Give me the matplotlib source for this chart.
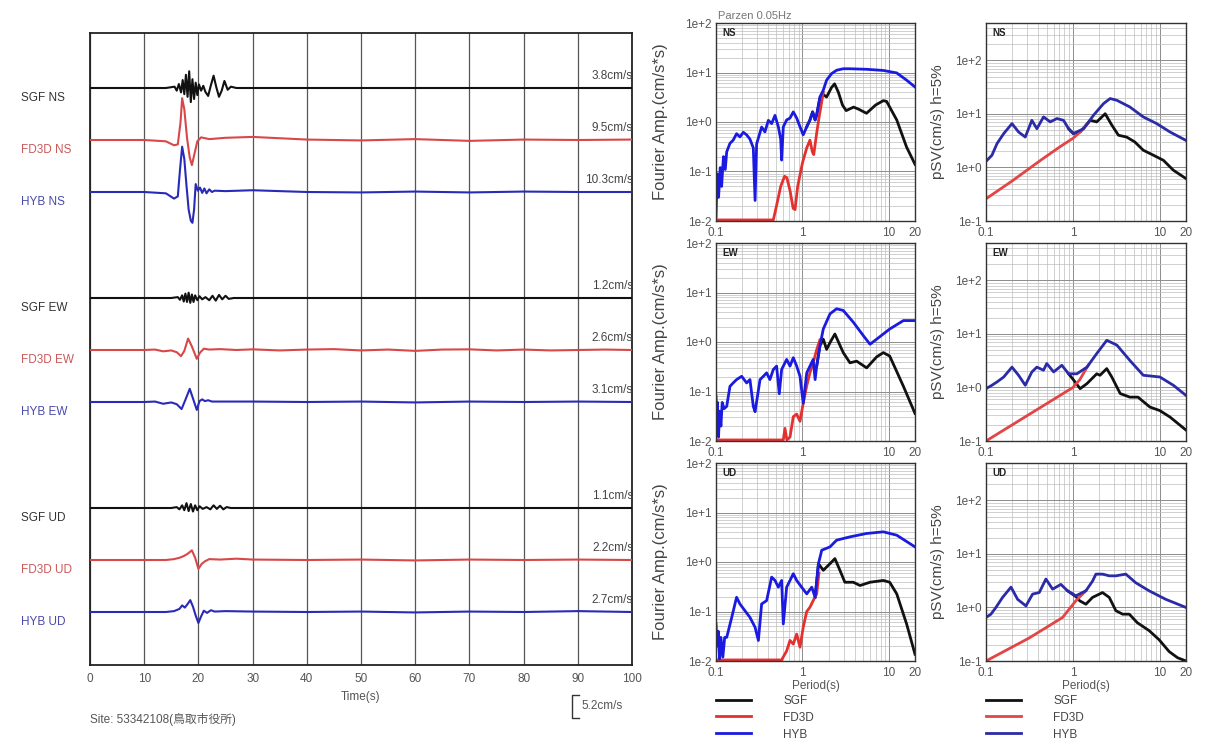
import matplotlib
matplotlib.use("Agg")
import matplotlib.pyplot as plt
from matplotlib import font_manager
from matplotlib.ticker import FixedLocator, NullFormatter

# -- fonts --
names = {f.name for f in font_manager.fontManager.ttflist}
base_font = 'Liberation Sans Narrow' if 'Liberation Sans Narrow' in names else 'Liberation Sans'
plt.rcParams['font.family'] = [base_font, 'DejaVu Sans', 'Noto Sans CJK JP']

# -- waveforms (time s, velocity cm/s) --
sgf_ns = [(0, 0), (14, 0), (15.6, 0.3), (16.0, -0.6), (16.4, 0.9), (16.8, -1.0), (17.1, 1.8), (17.4, -1.4),
          (17.7, 3.0), (18.0, -2.0), (18.3, 3.8), (18.6, -3.2), (18.9, 2.0), (19.2, -2.5), (19.5, 1.2),
          (19.8, -1.6), (20.1, 0.8), (20.5, -0.6), (20.9, 0.5), (21.3, -0.9), (21.8, -1.8), (22.3, 0.6),
          (22.8, 2.8), (23.3, 0.2), (23.8, -2.0), (24.3, -0.6), (24.8, 1.6), (25.4, -0.4), (26.0, 0.3),
          (27, 0), (100, 0)]
fd3d_ns = [(0, 0), (10, 0), (14, -0.3), (15.5, -1.2), (16.2, -1.0), (16.7, 4.0), (17.0, 9.5), (17.4, 7.0),
           (17.9, 0.5), (18.4, -4.0), (18.8, -5.7), (19.3, -3.0), (19.8, -0.3), (20.5, 0.6), (22, 0.2),
           (25, 0.5), (30, 0.7), (40, 0.1), (50, -0.1), (60, 0.2), (70, -0.2), (80, 0.1), (90, 0), (100, 0.1)]
hyb_ns = [(0, 0), (10, 0), (14, -0.3), (15.5, -1.5), (16.2, -1.0), (16.6, 5.0), (17.0, 10.3), (17.4, 7.5),
          (17.8, 1.5), (18.2, -4.0), (18.6, -6.5), (18.9, -7.0), (19.2, -4.0), (19.5, 1.8), (19.9, 0.3),
          (20.3, 1.0), (20.7, -0.2), (21.1, 0.8), (21.5, -0.3), (22, 0.6), (22.5, 0), (23, 0.3), (25, 0.2),
          (30, 0.4), (40, 0), (50, -0.1), (60, 0.1), (70, -0.1), (80, 0.1), (90, 0), (100, 0)]
sgf_ew = [(0, 0), (15, 0), (16.2, 0.2), (16.6, -0.4), (17.0, 0.6), (17.3, -0.8), (17.6, 1.0), (17.9, -0.9),
          (18.2, 1.2), (18.5, -1.1), (18.8, 0.8), (19.1, -0.9), (19.4, 0.6), (19.8, -0.5), (20.2, 0.4),
          (20.7, -0.3), (21.3, 0.2), (22.0, -0.5), (22.6, 0.5), (23.2, -0.6), (23.8, 0.7), (24.4, -0.3),
          (25.0, 0.5), (25.6, -0.2), (26.5, 0), (100, 0)]
fd3d_ew = [(0, 0), (10, 0), (12, 0.1), (13.5, -0.3), (15, -0.1), (16, -0.5), (16.8, -1.4), (17.4, -0.2),
           (18.1, 2.6), (18.8, 0.8), (19.7, -2.0), (20.3, -0.6), (21, 0.3), (22, 0.1), (24, 0.2), (27, 0),
           (30, 0.15), (35, -0.1), (40, 0.1), (45, 0.2), (50, -0.1), (55, 0.1), (60, -0.2), (65, 0.1),
           (70, 0.15), (75, -0.1), (80, 0.1), (85, -0.1), (90, 0), (95, 0.1), (100, 0)]
hyb_ew = [(0, 0), (10, 0), (12, 0.1), (13.5, -0.4), (15, -0.1), (16, -0.5), (16.9, -1.6), (17.6, 0.5),
          (18.4, 3.0), (19.0, 0.8), (19.7, -1.8), (20.2, 0.2), (20.7, 0.6), (21.2, 0.2), (21.8, 0.4),
          (22.5, 0.1), (24, 0.1), (30, 0.1), (40, 0), (50, 0.1), (60, -0.1), (70, 0.1), (80, 0), (90, 0.1),
          (100, 0)]
sgf_ud = [(0, 0), (15, 0), (16.0, 0.2), (16.5, -0.3), (17.0, 0.6), (17.4, -0.5), (17.8, 1.1), (18.2, -0.7),
          (18.6, 0.9), (19.0, -0.8), (19.4, 0.6), (19.8, -0.5), (20.2, 0.4), (20.8, -0.2), (21.5, 0.2),
          (22.2, -0.3), (22.8, 0.6), (23.4, -0.2), (24.0, 0.5), (24.6, -0.3), (25.2, 0.2), (26, 0), (100, 0)]
fd3d_ud = [(0, 0), (10, 0), (14, 0), (15.5, 0.2), (16.5, 0.5), (17.3, 0.9), (18.0, 1.4), (18.8, 2.2),
           (19.4, 0.5), (20.0, -2.0), (20.6, -0.9), (21.2, -0.3), (22, 0.2), (24, 0.1), (27, 0.3), (30, 0.1),
           (40, 0), (50, 0.1), (60, -0.1), (70, 0.1), (80, 0), (90, 0.1), (100, 0)]
hyb_ud = [(0, 0), (10, 0), (14, 0), (15.5, 0.2), (16.5, 0.7), (17.0, 1.5), (17.5, 1.0), (18.0, 1.8),
          (18.5, 2.7), (19.0, 1.2), (19.5, -0.8), (20.0, -2.5), (20.5, -1.0), (21.0, 0.3), (21.6, -0.2),
          (22.3, 0.4), (23, 0.1), (25, 0.2), (30, 0.1), (40, 0), (50, 0.1), (60, -0.1), (70, 0.1), (80, 0),
          (90, 0.2), (100, 0)]

wave_names = ['SGF NS', 'FD3D NS', 'HYB NS', 'SGF EW', 'FD3D EW', 'HYB EW', 'SGF UD', 'FD3D UD', 'HYB UD']
wave_data = [sgf_ns, fd3d_ns, hyb_ns, sgf_ew, fd3d_ew, hyb_ew, sgf_ud, fd3d_ud, hyb_ud]
wave_peaks = ['3.8cm/s', '9.5cm/s', '10.3cm/s', '1.2cm/s', '2.6cm/s', '3.1cm/s', '1.1cm/s', '2.2cm/s', '2.7cm/s']

# -- Fourier spectra (period s, amplitude cm/s*s) --
four_ns_sgf = [(1.12, 0.8), (1.22, 1.1), (1.31, 1.6), (1.40, 1.1), (1.46, 1.4), (1.59, 3.0), (1.74, 3.6),
               (1.90, 3.2), (2.17, 5.0), (2.35, 5.9), (2.6, 4.0), (2.9, 2.2), (3.2, 1.7), (3.9, 2.0),
               (4.5, 1.8), (5.5, 1.5), (7.0, 2.2), (8.6, 2.7), (9.4, 2.6), (12.3, 1.1), (16.0, 0.31), (20.0, 0.14)]
four_ns_fd3d = [(0.1, 0.0105), (0.46, 0.0105), (0.50, 0.02), (0.56, 0.05), (0.62, 0.08), (0.66, 0.075),
                (0.72, 0.04), (0.78, 0.018), (0.82, 0.017), (0.88, 0.05), (1.0, 0.15), (1.12, 0.3),
                (1.22, 0.43), (1.3, 0.25), (1.35, 0.22), (1.46, 0.6), (1.55, 1.2), (1.74, 4.0)]
four_ns_hyb = [(0.100, 0.012), (0.103, 0.09), (0.107, 0.03), (0.112, 0.12), (0.116, 0.05), (0.122, 0.2),
               (0.128, 0.11), (0.133, 0.25), (0.145, 0.37), (0.158, 0.43), (0.173, 0.58), (0.189, 0.50),
               (0.207, 0.62), (0.226, 0.55), (0.247, 0.45), (0.270, 0.30), (0.283, 0.026), (0.295, 0.36),
               (0.337, 0.79), (0.368, 0.63), (0.403, 1.08), (0.440, 0.93), (0.481, 1.36), (0.526, 0.80),
               (0.560, 0.45), (0.574, 0.17), (0.600, 0.80), (0.656, 1.1), (0.717, 1.2), (0.783, 1.6),
               (0.857, 1.2), (0.936, 0.8), (1.02, 0.55), (1.12, 0.8), (1.22, 1.1), (1.31, 1.6), (1.40, 1.1),
               (1.46, 1.4), (1.59, 3.2), (1.74, 4.4), (1.90, 7.0), (2.17, 9.5), (2.48, 11.1), (2.96, 11.9),
               (3.54, 11.9), (5.52, 11.6), (8.6, 11.0), (12.3, 9.8), (16.0, 7.0), (20.0, 5.1)]
four_ew_sgf = [(1.46, 0.326), (1.59, 0.835), (1.74, 1.14), (1.90, 0.71), (2.1, 1.0), (2.37, 1.45),
               (2.96, 0.61), (3.54, 0.38), (4.23, 0.41), (5.52, 0.30), (7.2, 0.5), (8.6, 0.61), (10.2, 0.52),
               (14.7, 0.127), (20.0, 0.036)]
four_ew_fd3d = [(0.1, 0.0105), (0.60, 0.0105), (0.627, 0.018), (0.66, 0.0105), (0.717, 0.012), (0.783, 0.031),
                (0.857, 0.035), (0.936, 0.025), (1.02, 0.058), (1.12, 0.13), (1.22, 0.24), (1.33, 0.38),
                (1.46, 0.7), (1.59, 1.1)]
four_ew_hyb = [(0.100, 0.079), (0.102, 0.03), (0.104, 0.06), (0.107, 0.012), (0.110, 0.04), (0.114, 0.02),
               (0.118, 0.06), (0.124, 0.045), (0.133, 0.05), (0.145, 0.127), (0.158, 0.149), (0.173, 0.174),
               (0.198, 0.203), (0.226, 0.149), (0.247, 0.174), (0.270, 0.05), (0.283, 0.039), (0.323, 0.174),
               (0.353, 0.203), (0.385, 0.238), (0.420, 0.174), (0.460, 0.278), (0.502, 0.326), (0.539, 0.09),
               (0.574, 0.278), (0.656, 0.445), (0.717, 0.326), (0.783, 0.482), (0.857, 0.326), (0.936, 0.203),
               (1.02, 0.058), (1.12, 0.238), (1.22, 0.326), (1.33, 0.445), (1.40, 0.174), (1.46, 0.326),
               (1.59, 0.835), (1.74, 1.83), (2.08, 3.7), (2.48, 4.69), (2.96, 4.34), (3.87, 2.51), (5.06, 1.34),
               (6.04, 0.9), (7.20, 1.14), (10.2, 1.83), (14.7, 2.71), (20.0, 2.71)]
four_ud_sgf = [(1.40, 0.194), (1.53, 0.925), (1.74, 0.68), (2.08, 0.925), (2.37, 1.17), (2.71, 0.68),
               (3.09, 0.39), (3.87, 0.39), (4.63, 0.335), (6.04, 0.39), (8.6, 0.424), (10.2, 0.39),
               (12.3, 0.227), (16.0, 0.056), (20.0, 0.0137)]
four_ud_fd3d = [(0.1, 0.0105), (0.574, 0.0105), (0.656, 0.016), (0.717, 0.026), (0.783, 0.022), (0.857, 0.035),
                (0.936, 0.019), (1.02, 0.048), (1.12, 0.1), (1.22, 0.122), (1.33, 0.166), (1.46, 0.227),
                (1.55, 0.6)]
four_ud_hyb = [(0.100, 0.056), (0.103, 0.02), (0.106, 0.04), (0.110, 0.011), (0.114, 0.03), (0.120, 0.012),
               (0.126, 0.03), (0.133, 0.030), (0.152, 0.076), (0.173, 0.194), (0.189, 0.142), (0.216, 0.104),
               (0.247, 0.076), (0.283, 0.048), (0.309, 0.026), (0.337, 0.142), (0.385, 0.166), (0.440, 0.495),
               (0.481, 0.424), (0.526, 0.31), (0.574, 0.424), (0.600, 0.056), (0.656, 0.31), (0.717, 0.424),
               (0.783, 0.58), (0.857, 0.424), (0.978, 0.31), (1.12, 0.227), (1.28, 0.31), (1.40, 0.194),
               (1.53, 0.925), (1.67, 1.73), (2.08, 2.02), (2.48, 2.76), (3.54, 3.22), (5.52, 3.77),
               (8.6, 4.07), (12.3, 3.48), (20.0, 2.02)]

# -- pseudo velocity response, h=5% (period s, cm/s) --
psv_ns_sgf = [(0.892, 5.3), (1.01, 4.3), (1.21, 4.6), (1.58, 7.6), (1.88, 7.1), (2.35, 10.1), (2.8, 6.2),
              (3.34, 4.0), (4.15, 3.7), (5.15, 3.0), (6.45, 2.1), (8.4, 1.7), (11.0, 1.36), (14.3, 0.89),
              (20.0, 0.62)]
psv_ns_fd3d = [(0.1, 0.26), (0.2, 0.56), (0.4, 1.27), (0.7, 2.4), (1.0, 3.5), (1.21, 4.6), (1.5, 6.8)]
psv_ns_hyb = [(0.100, 1.3), (0.117, 1.69), (0.134, 2.8), (0.160, 4.3), (0.199, 6.6), (0.237, 4.6),
              (0.283, 3.7), (0.337, 7.6), (0.385, 5.3), (0.459, 8.8), (0.548, 7.1), (0.654, 8.2), (0.780, 7.6),
              (0.892, 5.3), (1.01, 4.3), (1.33, 5.3), (1.73, 9.5), (2.25, 15.6), (2.68, 19.4), (3.2, 18.0),
              (4.52, 13.5), (6.45, 8.8), (9.2, 6.6), (13.1, 4.6), (20.0, 3.2)]
psv_ew_sgf = [(0.892, 1.8), (1.01, 1.4), (1.21, 0.95), (1.45, 1.18), (1.88, 1.8), (2.05, 1.69), (2.45, 2.25),
              (2.8, 1.57), (3.5, 0.77), (4.52, 0.66), (5.6, 0.66), (7.7, 0.43), (10.0, 0.37), (13.1, 0.28),
              (20.0, 0.16)]
psv_ew_fd3d = [(0.1, 0.1), (0.2, 0.2), (0.4, 0.4), (0.8, 0.8), (1.0, 1.0), (1.2, 1.4), (1.5, 2.6)]
psv_ew_hyb = [(0.100, 0.95), (0.117, 1.1), (0.134, 1.27), (0.160, 1.57), (0.199, 2.4), (0.237, 1.69),
              (0.283, 1.1), (0.337, 1.95), (0.385, 2.4), (0.459, 2.1), (0.50, 2.8), (0.60, 1.95), (0.746, 2.6),
              (0.892, 1.8), (1.11, 1.8), (1.45, 2.4), (1.88, 4.3), (2.45, 7.6), (3.2, 6.2), (4.52, 3.2),
              (6.45, 1.69), (10.0, 1.57), (14.3, 1.1), (20.0, 0.71)]
psv_ud_sgf = [(0.867, 2.05), (1.08, 1.6), (1.2, 1.33), (1.41, 1.15), (1.68, 1.54), (2.19, 1.9), (2.62, 1.54),
              (3.12, 0.87), (3.73, 0.75), (4.45, 0.75), (5.5, 0.52), (7.52, 0.37), (9.8, 0.25), (12.8, 0.15),
              (16.0, 0.115), (20.0, 0.1)]
psv_ud_fd3d = [(0.1, 0.1), (0.315, 0.27), (0.76, 0.65), (1.08, 1.33), (1.41, 2.05)]
psv_ud_hyb = [(0.100, 0.65), (0.114, 0.75), (0.130, 1.0), (0.155, 1.54), (0.194, 2.4), (0.231, 1.42),
              (0.288, 1.07), (0.344, 1.78), (0.410, 1.9), (0.489, 3.4), (0.584, 2.2), (0.727, 2.7),
              (0.867, 2.05), (1.08, 1.65), (1.41, 2.05), (1.68, 3.1), (1.84, 4.2), (2.19, 4.2), (2.62, 3.9),
              (3.12, 3.9), (4.06, 4.2), (5.28, 2.9), (7.52, 2.05), (11.7, 1.42), (20.0, 1.0)]

components = ['NS', 'EW', 'UD']
fourier = [(four_ns_sgf, four_ns_fd3d, four_ns_hyb), (four_ew_sgf, four_ew_fd3d, four_ew_hyb),
           (four_ud_sgf, four_ud_fd3d, four_ud_hyb)]
psv = [(psv_ns_sgf, psv_ns_fd3d, psv_ns_hyb), (psv_ew_sgf, psv_ew_fd3d, psv_ew_hyb),
       (psv_ud_sgf, psv_ud_fd3d, psv_ud_hyb)]
series_names = ['SGF', 'FD3D', 'HYB']

# === layout ===
W, H = 1213, 744
fig = plt.figure(figsize=(W / 100, H / 100), dpi=100)


def box(left, top, width, height):
    return [left / W, 1 - (top + height) / H, width / W, height / H]


TXT = '#555555'

# === waveforms ===
axw = fig.add_axes(box(90, 33, 542, 632))
axw.set_xlim(0, 100)
axw.set_ylim(632, 0)
px_per_cms = 4.4
wave_colors = ['#111111', '#d84848', '#2a2ab8']
label_colors = ['#333333', '#c85a5a', '#4a4aa8']
for i, (name, data, peak) in enumerate(zip(wave_names, wave_data, wave_peaks)):
    base = 55 + (i // 3) * 210 + (i % 3) * 52
    t = [p[0] for p in data]
    y = [base - p[1] * px_per_cms for p in data]
    axw.plot(t, y, color=wave_colors[i % 3], lw=1.5, zorder=3)
    axw.text(-12.8, base + 10, name, ha='left', va='center', fontsize=8.5,
             color=label_colors[i % 3], clip_on=False)
    axw.text(100.2, base - 12, peak, ha='right', va='center', fontsize=8.5, color='#444444')

axw.set_xticks(range(0, 101, 10))
axw.set_yticks([])
axw.grid(axis='x', color='#555555', lw=0.9)
axw.tick_params(axis='x', length=0, pad=6, labelsize=8.5, labelcolor=TXT)
for s in axw.spines.values():
    s.set_linewidth(1.3)
    s.set_color('#222222')
axw.set_xlabel('Time(s)', fontsize=8.5, color=TXT, labelpad=4)

# scale bar
bar_x = 88.9
bar_y0 = 632 + 30
bar_len = 5.2 * px_per_cms
axw.plot([bar_x + 1.4, bar_x, bar_x, bar_x + 1.4], [bar_y0, bar_y0, bar_y0 + bar_len, bar_y0 + bar_len],
         color='#333333', lw=1.0, clip_on=False)
axw.text(bar_x + 1.8, bar_y0 + bar_len / 2, '5.2cm/s', fontsize=8.5, color=TXT, va='center', ha='left',
         clip_on=False)
fig.text(90 / W, 1 - 720 / H, 'Site: 53342108(鳥取市役所)', fontsize=8.5, color=TXT, va='center')


# === spectra ===
def style_spec(ax, ylo, yhi, yticks, ylabels):
    ax.set_xscale('log')
    ax.set_yscale('log')
    ax.set_xlim(0.1, 20)
    ax.set_ylim(ylo, yhi)
    ax.xaxis.set_major_locator(FixedLocator([0.1, 1, 10, 20]))
    ax.set_xticklabels(['0.1', '1', '10', '20'])
    ax.xaxis.set_minor_locator(FixedLocator([k * d for d in (0.1, 1) for k in range(2, 10)]))
    ax.xaxis.set_minor_formatter(NullFormatter())
    ax.yaxis.set_major_locator(FixedLocator(yticks))
    ax.set_yticklabels(ylabels)
    minors = [k * 10.0 ** e for e in range(-3, 3) for k in range(2, 10) if ylo < k * 10.0 ** e <= yhi]
    ax.yaxis.set_minor_locator(FixedLocator(minors))
    ax.yaxis.set_minor_formatter(NullFormatter())
    ax.grid(which='major', color='#8c8c8c', lw=0.7)
    ax.grid(which='minor', color='#bdbdbd', lw=0.5)
    ax.set_axisbelow(True)
    ax.tick_params(which='both', length=0, labelsize=8.5, labelcolor=TXT)
    ax.tick_params(axis='x', pad=4)
    ax.tick_params(axis='y', pad=3)
    for s in ax.spines.values():
        s.set_color('#333333')
        s.set_linewidth(1.0)


four_colors = ['#111111', '#e53030', '#1a1ae0']
psv_colors = ['#111111', '#e24545', '#2b2ba8']

for r, comp in enumerate(components):
    axf = fig.add_axes(box(716, 23 + r * 220, 199, 198))
    axp = fig.add_axes(box(986, 23 + r * 220, 200, 198))
    style_spec(axf, 0.01, 100, [0.01, 0.1, 1, 10, 100], ['1e-2', '1e-1', '1e+0', '1e+1', '1e+2'])
    style_spec(axp, 0.1, 500, [0.1, 1, 10, 100], ['1e-1', '1e+0', '1e+1', '1e+2'])
    lines_f = []
    for data, col, nm in zip(fourier[r], four_colors, series_names):
        ln, = axf.plot([p[0] for p in data], [p[1] for p in data], color=col, lw=2.0, label=nm)
        lines_f.append(ln)
    lines_p = []
    for data, col, nm in zip(psv[r], psv_colors, series_names):
        ln, = axp.plot([p[0] for p in data], [p[1] for p in data], color=col, lw=2.0, label=nm)
        lines_p.append(ln)
    for ax in (axf, axp):
        ax.text(0.03, 0.975, comp, transform=ax.transAxes, va='top', ha='left', fontsize=7,
                fontweight='bold', color='#222222')
    axf.set_ylabel('Fourier Amp.(cm/s*s)', fontsize=12, color='#444444')
    axf.yaxis.set_label_coords(-0.24, 0.5)
    axp.set_ylabel('pSV(cm/s) h=5%', fontsize=11, color='#444444')
    axp.yaxis.set_label_coords(-0.205, 0.5)
    if r == 0:
        axf.text(0.01, 1.01, 'Parzen 0.05Hz', transform=axf.transAxes, fontsize=8, color='#777777',
                 va='bottom', ha='left')
    if r == 2:
        for ax, lines in ((axf, lines_f), (axp, lines_p)):
            ax.set_xlabel('Period(s)', fontsize=8.5, color=TXT, labelpad=1)
            ax.legend(handles=lines, loc='upper left', bbox_to_anchor=(0.0, -0.17), frameon=False,
                      handlelength=3.0, handletextpad=2.7, fontsize=8.5, labelspacing=0.42,
                      borderaxespad=0, borderpad=0, labelcolor='#444444')

fig.savefig('out.png', dpi=100)
